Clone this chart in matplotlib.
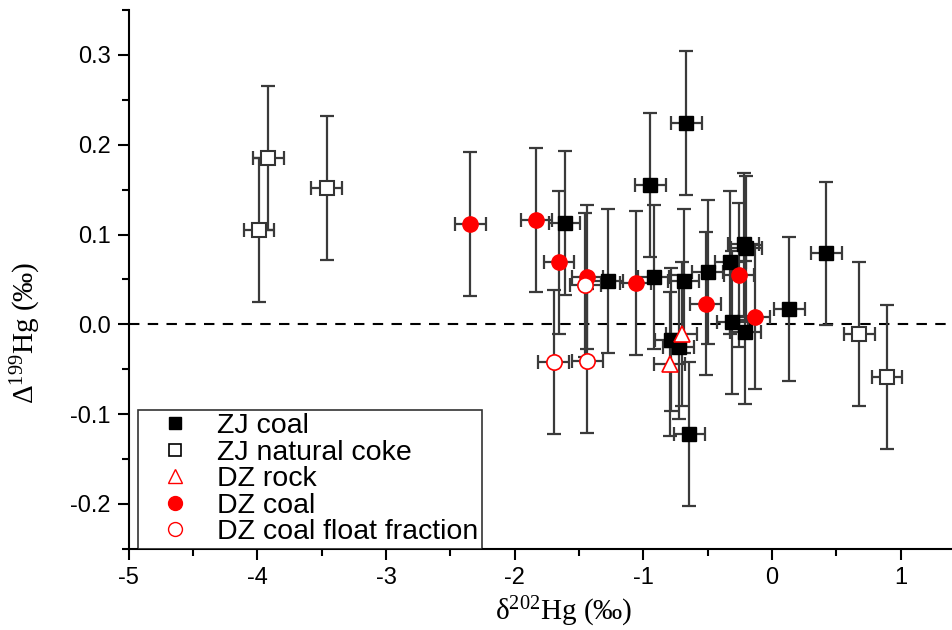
import matplotlib
matplotlib.use("Agg")
import matplotlib.pyplot as plt
from matplotlib.lines import Line2D
from matplotlib.ticker import MultipleLocator

plt.rcParams["font.family"] = ["Liberation Sans", "DejaVu Sans"]
plt.rcParams["mathtext.fontset"] = "custom"
plt.rcParams["mathtext.rm"] = "Liberation Serif"
plt.rcParams["mathtext.it"] = "Liberation Serif:italic"

# δ202Hg / Δ199Hg values (‰)
zj_coal_x = [-0.666, -0.946, -1.611, -1.275, -0.918, -0.687, -0.498, -0.325, -0.219,
             -0.200, -0.309, -0.206, 0.136, 0.421, -0.788, -0.726, -0.643]
zj_coal_y = [0.224, 0.155, 0.113, 0.048, 0.053, 0.048, 0.058, 0.069, 0.089,
             0.085, 0.002, -0.009, 0.017, 0.079, -0.017, -0.025, -0.122]

zj_coke_x = [-3.915, -3.987, -3.460, 0.679, 0.894]
zj_coke_y = [0.185, 0.105, 0.152, -0.011, -0.059]

dz_rock_x = [-0.700, -0.796]
dz_rock_y = [-0.011, -0.044]

dz_coal_x = [-2.343, -1.831, -1.655, -1.435, -1.060, -0.516, -0.256, -0.133]
dz_coal_y = [0.112, 0.116, 0.069, 0.053, 0.046, 0.023, 0.055, 0.008]

dz_float_x = [-1.450, -1.696, -1.435]
dz_float_y = [0.044, -0.042, -0.041]

x_err = 0.12   # 2SD on δ202Hg
y_err = 0.08   # 2SD on Δ199Hg

legend_labels = ["ZJ coal", "ZJ natural coke", "DZ rock", "DZ coal", "DZ coal float fraction"]

fig = plt.figure(figsize=(9.53, 6.30), dpi=100)
ax = fig.add_axes([0.135, 0.129, 0.864, 0.855])

ebar_kw = dict(ecolor="#3a3a3a", elinewidth=1.6, capsize=5, capthick=1.6, ls="none", zorder=2)

series = [
    (zj_coal_x, zj_coal_y, dict(marker="s", ms=10, mfc="black", mec="black")),
    (zj_coke_x, zj_coke_y, dict(marker="s", ms=10, mfc="white", mec="#333333", mew=1.5)),
    (dz_rock_x, dz_rock_y, dict(marker="^", ms=12, mfc="white", mec="red", mew=1.2)),
    (dz_coal_x, dz_coal_y, dict(marker="o", ms=11, mfc="red", mec="red")),
    (dz_float_x, dz_float_y, dict(marker="o", ms=11, mfc="white", mec="red", mew=1.2)),
]

for xs, ys, mkw in series:
    ax.errorbar(xs, ys, xerr=x_err, yerr=y_err, fmt="none", **ebar_kw)
for xs, ys, mkw in series:
    ax.plot(xs, ys, ls="none", zorder=3, **mkw)

ax.axhline(0, color="black", ls=(0, (5, 4)), lw=1.5, zorder=1)

ax.set_xlim(-5, 1.4)
ax.set_ylim(-0.25, 0.35)
ax.xaxis.set_minor_locator(MultipleLocator(0.5))
ax.yaxis.set_minor_locator(MultipleLocator(0.05))
ax.set_yticks([-0.2, -0.1, 0.0, 0.1, 0.2, 0.3])
ax.set_yticklabels(["-0.2", "-0.1", "0.0", "0.1", "0.2", "0.3"])
ax.set_xticks([-5, -4, -3, -2, -1, 0, 1])
ax.set_xticklabels(["-5", "-4", "-3", "-2", "-1", "0", "1"])

for side in ("top", "right"):
    ax.spines[side].set_visible(False)
for side in ("left", "bottom"):
    ax.spines[side].set_linewidth(1.5)
ax.tick_params(which="major", direction="out", length=8, width=1.5, labelsize=17, pad=5)
ax.tick_params(which="minor", direction="out", length=5, width=1.5)

ax.set_xlabel(r"$\mathrm{\delta^{202}}$Hg (‰)", family="Liberation Serif", fontsize=21)
ax.set_ylabel(r"$\mathrm{\Delta^{199}}$Hg (‰)", family="Liberation Serif", fontsize=21)
ax.xaxis.set_label_coords(0.528, -0.085)
ax.yaxis.set_label_coords(-0.104, 0.40)

handles = [
    Line2D([], [], ls="none", marker="s", ms=8, mfc="black", mec="black"),
    Line2D([], [], ls="none", marker="s", ms=8, mfc="white", mec="black", mew=1.2),
    Line2D([], [], ls="none", marker="^", ms=10, mfc="white", mec="red", mew=1.0),
    Line2D([], [], ls="none", marker="o", ms=10, mfc="red", mec="red"),
    Line2D([], [], ls="none", marker="o", ms=10, mfc="white", mec="red", mew=1.0),
]
leg = ax.legend(handles, legend_labels, loc="lower left", bbox_to_anchor=(0.011, 0.0),
                borderaxespad=0.0, fontsize=20.5, frameon=True, fancybox=False,
                handletextpad=0.28, handlelength=2.4, labelspacing=0.02,
                borderpad=0.12)
leg.get_frame().set_edgecolor("black")
leg.get_frame().set_linewidth(1.2)

fig.savefig("out.png", dpi=100)
